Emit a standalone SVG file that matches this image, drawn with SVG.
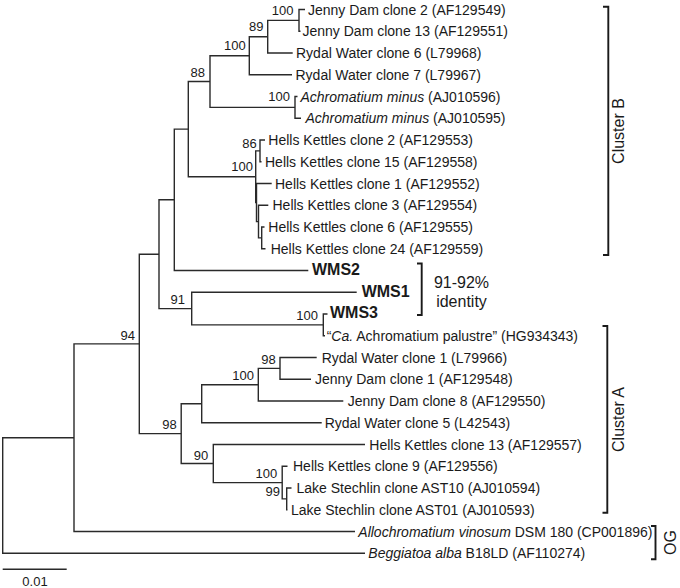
<svg xmlns="http://www.w3.org/2000/svg" width="680" height="588" viewBox="0 0 680 588">
<style>
text{font-family:"Liberation Sans",Arial,sans-serif;fill:#1a1a1a}
.leaf{font-size:14px}
.wms{font-size:16px;font-weight:bold}
.bs{font-size:13px;text-anchor:end}
.big{font-size:16px}
.br{fill:none;stroke:#2a2a2a;stroke-width:1.4;stroke-linejoin:miter}
.bk{fill:none;stroke:#1a1a1a;stroke-width:1.9}
</style>
<rect width="680" height="588" fill="#fff"/>
<g id="connectors" class="br">
<path d="M74,437.7H2.7V553.25H365"/>
<path d="M139.3,343.9H74V531.5H355"/>
<path d="M159,254.2H139.3V433.6H181.2"/>
<path d="M174.3,199.8H159V308.6H191.7"/>
<path d="M188.3,129.1H174.3V270.5H308.3"/>
<path d="M210,81.55H188.3V176.7H255.7"/>
<path d="M249.3,55.7H210V107.4H295"/>
<path d="M267.7,36.7H249.3V74.75H292"/>
<path d="M299,20.4H267.7V53H292.7"/>
<path d="M305,9.5H299V31.25H300.5"/>
<path d="M297.5,96.5H295V118.25H301"/>
<path d="M260,150.9H255.7V202.5H256.5"/>
<path d="M265,140H260V161.75H261.5"/>
<path d="M271.7,183.5H256.5V221.6H258.5"/>
<path d="M268.3,205.25H258.5V237.9H261.7"/>
<path d="M264.5,227H261.7V248.75H265.5"/>
<path d="M356.7,292.25H191.7V324.9H323.3"/>
<path d="M327.5,314H323.3V335.75H325"/>
<path d="M201.7,403.7H181.2V463.5H213.3"/>
<path d="M258.3,384.7H201.7V422.75H321.7"/>
<path d="M280,368.4H258.3V401H343.3"/>
<path d="M316.7,357.5H280V379.25H311"/>
<path d="M365,444.5H213.3V482.6H282.2"/>
<path d="M287.5,466.25H282.2V498.9H286.7"/>
<path d="M291.5,488H286.7V509.75H287.5"/>
</g>
<g id="bootstrap">
<text class="bs" x="293.5" y="14.7">100</text>
<text class="bs" x="263.5" y="30.7">89</text>
<text class="bs" x="245.7" y="49.7">100</text>
<text class="bs" x="205" y="77.4">88</text>
<text class="bs" x="290" y="101.4">100</text>
<text class="bs" x="256.7" y="148">86</text>
<text class="bs" x="253" y="171.4">100</text>
<text class="bs" x="185" y="304">91</text>
<text class="bs" x="318" y="320.4">100</text>
<text class="bs" x="135" y="339.7">94</text>
<text class="bs" x="176.7" y="429">98</text>
<text class="bs" x="254" y="379.7">100</text>
<text class="bs" x="275.7" y="364">98</text>
<text class="bs" x="208.3" y="459.7">90</text>
<text class="bs" x="277.3" y="478">100</text>
<text class="bs" x="280" y="496.4">99</text>
</g>
<g id="leaf-jd2"><text class="leaf" x="308" y="14.5">Jenny Dam clone 2 (AF129549)</text></g>
<g id="leaf-jd13"><text class="leaf" x="302.5" y="36.25">Jenny Dam clone 13 (AF129551)</text></g>
<g id="leaf-rw6"><text class="leaf" x="296" y="58">Rydal Water clone 6 (L79968)</text></g>
<g id="leaf-rw7"><text class="leaf" x="295.5" y="79.75">Rydal Water clone 7 (L79967)</text></g>
<g id="leaf-am596"><text class="leaf" x="300.5" y="101.5"><tspan font-style="italic">Achromatium minus</tspan> (AJ010596)</text></g>
<g id="leaf-am595"><text class="leaf" x="305.5" y="123.25"><tspan font-style="italic">Achromatium minus</tspan> (AJ010595)</text></g>
<g id="leaf-hk2"><text class="leaf" x="268.3" y="145">Hells Kettles clone 2 (AF129553)</text></g>
<g id="leaf-hk15"><text class="leaf" x="265" y="166.75">Hells Kettles clone 15 (AF129558)</text></g>
<g id="leaf-hk1"><text class="leaf" x="275" y="188.5">Hells Kettles clone 1 (AF129552)</text></g>
<g id="leaf-hk3"><text class="leaf" x="272.5" y="210.25">Hells Kettles clone 3 (AF129554)</text></g>
<g id="leaf-hk6"><text class="leaf" x="268.3" y="232">Hells Kettles clone 6 (AF129555)</text></g>
<g id="leaf-hk24"><text class="leaf" x="270.7" y="253.75">Hells Kettles clone 24 (AF129559)</text></g>
<g id="leaf-wms2"><text class="wms" x="312" y="274.5">WMS2</text></g>
<g id="leaf-wms1"><text class="wms" x="361.7" y="296.5">WMS1</text></g>
<g id="leaf-wms3"><text class="wms" x="330" y="317.5">WMS3</text></g>
<g id="leaf-ca"><text class="leaf" x="326.7" y="340.75">“<tspan font-style="italic">Ca.</tspan> Achromatium palustre” (HG934343)</text></g>
<g id="leaf-rw1"><text class="leaf" x="321.7" y="362.5">Rydal Water clone 1 (L79966)</text></g>
<g id="leaf-jd1"><text class="leaf" x="315" y="384.25">Jenny Dam clone 1 (AF129548)</text></g>
<g id="leaf-jd8"><text class="leaf" x="347.7" y="406">Jenny Dam clone 8 (AF129550)</text></g>
<g id="leaf-rw5"><text class="leaf" x="324.7" y="427.75">Rydal Water clone 5 (L42543)</text></g>
<g id="leaf-hk13"><text class="leaf" x="369.3" y="449.5">Hells Kettles clone 13 (AF129557)</text></g>
<g id="leaf-hk9"><text class="leaf" x="293" y="471.25">Hells Kettles clone 9 (AF129556)</text></g>
<g id="leaf-ast10"><text class="leaf" x="296.5" y="493">Lake Stechlin clone AST10 (AJ010594)</text></g>
<g id="leaf-ast01"><text class="leaf" x="291" y="514.75">Lake Stechlin clone AST01 (AJ010593)</text></g>
<g id="leaf-allo"><text class="leaf" x="358.3" y="536.5"><tspan font-style="italic">Allochromatium vinosum</tspan> DSM 180 (CP001896)</text></g>
<g id="leaf-begg"><text class="leaf" x="368.3" y="558.25"><tspan font-style="italic">Beggiatoa alba</tspan> B18LD (AF110274)</text></g>
<g id="bracket-b"><path class="bk" d="M603,6.7H608.3V255H603"/><text class="big" text-anchor="middle" transform="translate(624,131) rotate(-90)">Cluster B</text></g>
<g id="bracket-wms"><path class="bk" d="M417,263.5H421.7V315H417"/><text class="big" text-anchor="middle" x="461.5" y="287.5">91-92%</text><text class="big" text-anchor="middle" x="461.5" y="306.5">identity</text></g>
<g id="bracket-a"><path class="bk" d="M602.5,326H607.3V512.7H602.5"/><text class="big" text-anchor="middle" transform="translate(624,419.5) rotate(-90)">Cluster A</text></g>
<g id="bracket-og"><path class="bk" d="M651,526H655.5V559.3H651"/><text class="big" text-anchor="middle" transform="translate(676,542.5) rotate(-90)">OG</text></g>
<g id="scalebar"><path class="br" d="M2.7,569.3H66.7"/><text font-size="13" text-anchor="middle" x="35" y="586">0.01</text></g>
</svg>
